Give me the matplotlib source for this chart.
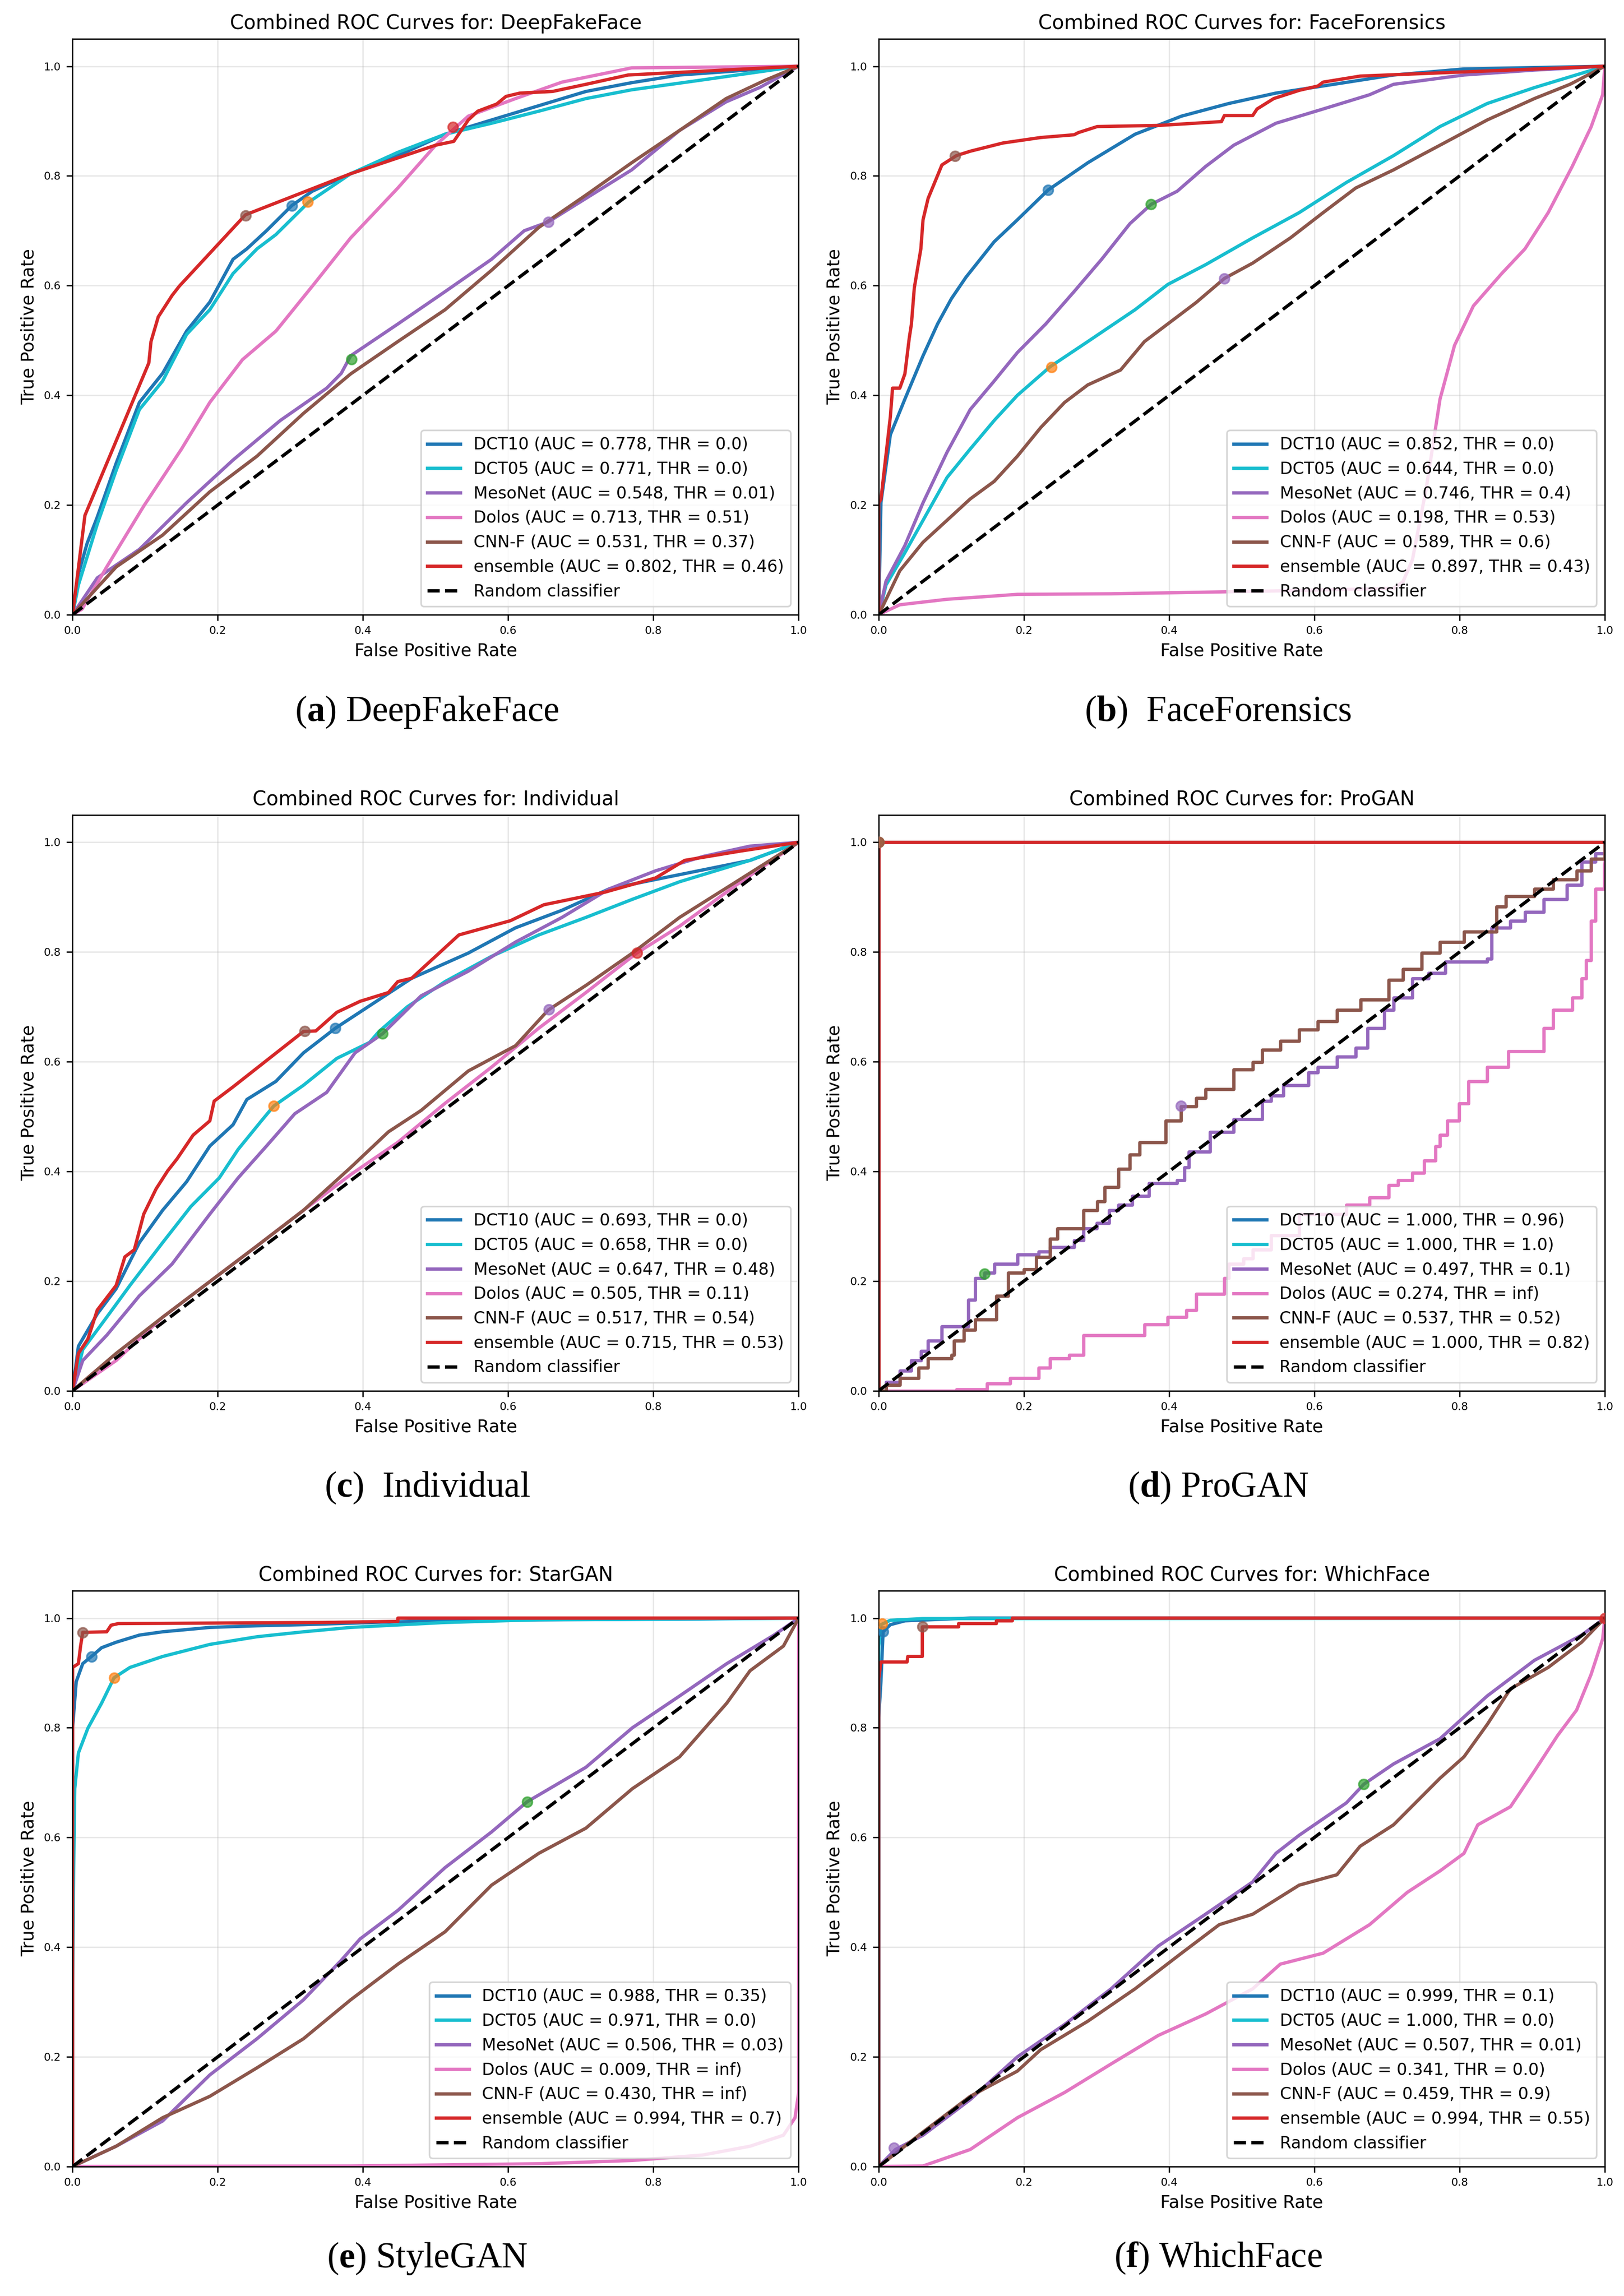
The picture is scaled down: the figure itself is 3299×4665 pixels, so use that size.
import matplotlib
matplotlib.use('Agg')
import matplotlib.pyplot as plt

plt.rcParams['mathtext.fontset'] = 'custom'
plt.rcParams['mathtext.rm'] = 'Liberation Serif'
plt.rcParams['mathtext.bf'] = 'Liberation Serif:bold'

models = ['DCT10', 'DCT05', 'MesoNet', 'Dolos', 'CNN-F', 'ensemble']
line_colors = ['tab:blue', 'tab:cyan', 'tab:purple', 'tab:pink', 'tab:brown', 'tab:red']
marker_colors = ['C0', 'C1', 'C2', 'C3', 'C4', 'C5']
diag = [0, 1]

# ---- DeepFakeFace ----
dff_auc = [0.778, 0.771, 0.548, 0.713, 0.531, 0.802]
dff_thr = [0.0, 0.0, 0.01, 0.51, 0.37, 0.46]
dff_dct10_fpr = [0, 0.008, 0.02, 0.034, 0.06, 0.092, 0.124, 0.157, 0.189, 0.221, 0.24, 0.267, 0.302, 0.33, 0.383, 0.448, 0.513, 0.577, 0.642, 0.707, 0.77, 0.836, 0.90, 1.0]
dff_dct10_tpr = [0, 0.074, 0.13, 0.178, 0.276, 0.387, 0.44, 0.517, 0.57, 0.648, 0.667, 0.70, 0.746, 0.772, 0.804, 0.837, 0.876, 0.902, 0.928, 0.954, 0.97, 0.984, 0.99, 1.0]
dff_dct05_fpr = [0, 0.008, 0.034, 0.06, 0.092, 0.124, 0.157, 0.189, 0.221, 0.254, 0.28, 0.325, 0.383, 0.448, 0.513, 0.577, 0.642, 0.707, 0.77, 0.862, 1.0]
dff_dct05_tpr = [0, 0.054, 0.165, 0.263, 0.374, 0.426, 0.511, 0.556, 0.622, 0.667, 0.693, 0.752, 0.804, 0.843, 0.876, 0.896, 0.918, 0.941, 0.957, 0.974, 1.0]
dff_meso_fpr = [0, 0.034, 0.092, 0.157, 0.221, 0.286, 0.35, 0.37, 0.383, 0.448, 0.513, 0.577, 0.622, 0.655, 0.707, 0.77, 0.836, 0.90, 0.946, 1.0]
dff_meso_tpr = [0, 0.067, 0.119, 0.204, 0.282, 0.354, 0.413, 0.44, 0.472, 0.53, 0.589, 0.648, 0.70, 0.716, 0.759, 0.811, 0.883, 0.935, 0.961, 1.0]
dff_dolos_fpr = [0, 0.013, 0.047, 0.098, 0.15, 0.189, 0.234, 0.28, 0.332, 0.383, 0.448, 0.50, 0.545, 0.61, 0.674, 0.77, 1.0]
dff_dolos_tpr = [0, 0.01, 0.087, 0.198, 0.302, 0.387, 0.465, 0.517, 0.602, 0.687, 0.778, 0.856, 0.909, 0.941, 0.971, 0.997, 1.0]
dff_cnnf_fpr = [0, 0.06, 0.124, 0.189, 0.254, 0.318, 0.383, 0.448, 0.513, 0.577, 0.642, 0.707, 0.77, 0.836, 0.90, 0.953, 1.0]
dff_cnnf_tpr = [0, 0.087, 0.145, 0.224, 0.289, 0.367, 0.439, 0.498, 0.556, 0.628, 0.706, 0.765, 0.824, 0.883, 0.941, 0.974, 1.0]
dff_ens_fpr = [0, 0.017, 0.105, 0.108, 0.118, 0.137, 0.147, 0.238, 0.383, 0.50, 0.525, 0.545, 0.558, 0.584, 0.597, 0.616, 0.661, 0.707, 0.765, 1.0]
dff_ens_tpr = [0, 0.181, 0.459, 0.498, 0.543, 0.582, 0.599, 0.729, 0.804, 0.856, 0.863, 0.902, 0.918, 0.931, 0.945, 0.951, 0.954, 0.967, 0.984, 1.0]
dff_pt_fpr = [0.302, 0.324, 0.384, 0.524, 0.655, 0.238]
dff_pt_tpr = [0.746, 0.753, 0.466, 0.889, 0.716, 0.728]

# ---- FaceForensics ----
ff_auc = [0.852, 0.644, 0.746, 0.198, 0.589, 0.897]
ff_thr = [0.0, 0.0, 0.4, 0.53, 0.6, 0.43]
ff_dct10_fpr = [0, 0.003, 0.016, 0.036, 0.061, 0.081, 0.1, 0.12, 0.159, 0.191, 0.233, 0.288, 0.353, 0.417, 0.482, 0.547, 0.612, 0.709, 0.806, 1.0]
ff_dct10_tpr = [0, 0.204, 0.328, 0.393, 0.472, 0.53, 0.576, 0.615, 0.68, 0.72, 0.774, 0.824, 0.876, 0.909, 0.932, 0.951, 0.964, 0.984, 0.995, 1.0]
ff_dct05_fpr = [0, 0.01, 0.036, 0.061, 0.094, 0.126, 0.159, 0.191, 0.236, 0.288, 0.353, 0.398, 0.45, 0.515, 0.579, 0.644, 0.709, 0.773, 0.838, 0.903, 1.0]
ff_dct05_tpr = [0, 0.054, 0.113, 0.172, 0.25, 0.302, 0.354, 0.40, 0.452, 0.498, 0.556, 0.602, 0.638, 0.687, 0.733, 0.788, 0.837, 0.89, 0.932, 0.961, 1.0]
ff_meso_fpr = [0, 0.01, 0.036, 0.061, 0.094, 0.126, 0.159, 0.191, 0.23, 0.269, 0.307, 0.346, 0.375, 0.411, 0.45, 0.489, 0.547, 0.612, 0.676, 0.709, 0.806, 0.903, 1.0]
ff_meso_tpr = [0, 0.061, 0.126, 0.204, 0.296, 0.374, 0.426, 0.478, 0.53, 0.589, 0.648, 0.713, 0.748, 0.772, 0.817, 0.856, 0.896, 0.922, 0.948, 0.967, 0.984, 0.993, 1.0]
ff_dolos_fpr = [0, 0.029, 0.094, 0.191, 0.32, 0.45, 0.579, 0.709, 0.722, 0.735, 0.754, 0.773, 0.793, 0.819, 0.858, 0.89, 0.922, 0.955, 0.981, 0.997, 1.0]
ff_dolos_tpr = [0, 0.018, 0.028, 0.037, 0.038, 0.041, 0.044, 0.048, 0.06, 0.1, 0.23, 0.393, 0.491, 0.563, 0.622, 0.667, 0.733, 0.817, 0.889, 0.948, 1.0]
ff_cnnf_fpr = [0, 0.029, 0.061, 0.094, 0.126, 0.159, 0.191, 0.223, 0.256, 0.288, 0.333, 0.366, 0.398, 0.437, 0.476, 0.515, 0.567, 0.612, 0.657, 0.709, 0.773, 0.838, 0.903, 0.952, 1.0]
ff_cnnf_tpr = [0, 0.08, 0.132, 0.172, 0.211, 0.243, 0.289, 0.341, 0.387, 0.419, 0.446, 0.498, 0.53, 0.569, 0.613, 0.641, 0.687, 0.733, 0.778, 0.811, 0.856, 0.902, 0.941, 0.967, 1.0]
ff_ens_fpr = [0, 0, 0.003, 0.009, 0.016, 0.019, 0.029, 0.036, 0.042, 0.045, 0.049, 0.058, 0.061, 0.068, 0.078, 0.087, 0.107, 0.126, 0.171, 0.223, 0.269, 0.275, 0.301, 0.385, 0.472, 0.476, 0.515, 0.521, 0.544, 0.579, 0.605, 0.612, 0.663, 1.0]
ff_ens_tpr = [0, 0.204, 0.21, 0.28, 0.361, 0.413, 0.413, 0.439, 0.504, 0.53, 0.596, 0.667, 0.72, 0.759, 0.791, 0.82, 0.837, 0.845, 0.86, 0.87, 0.875, 0.879, 0.89, 0.892, 0.899, 0.91, 0.91, 0.922, 0.941, 0.956, 0.964, 0.971, 0.982, 1.0]
ff_pt_fpr = [0.233, 0.238, 0.375, None, 0.476, 0.105]
ff_pt_tpr = [0.774, 0.451, 0.748, None, 0.613, 0.836]

# ---- Individual ----
ind_auc = [0.693, 0.658, 0.647, 0.505, 0.517, 0.715]
ind_thr = [0.0, 0.0, 0.48, 0.11, 0.54, 0.53]
ind_dct10_fpr = [0, 0.008, 0.034, 0.06, 0.092, 0.124, 0.157, 0.189, 0.221, 0.24, 0.28, 0.318, 0.362, 0.415, 0.467, 0.545, 0.61, 0.674, 0.739, 0.836, 0.933, 1.0]
ind_dct10_tpr = [0, 0.081, 0.14, 0.186, 0.27, 0.329, 0.381, 0.446, 0.485, 0.531, 0.564, 0.616, 0.661, 0.707, 0.752, 0.798, 0.844, 0.876, 0.915, 0.941, 0.967, 1.0]
ind_dct05_fpr = [0, 0.014, 0.047, 0.079, 0.124, 0.163, 0.202, 0.228, 0.26, 0.277, 0.318, 0.364, 0.409, 0.422, 0.461, 0.513, 0.577, 0.642, 0.707, 0.771, 0.836, 0.933, 1.0]
ind_dct05_tpr = [0, 0.075, 0.134, 0.192, 0.27, 0.336, 0.388, 0.44, 0.492, 0.519, 0.557, 0.606, 0.635, 0.655, 0.70, 0.746, 0.792, 0.831, 0.863, 0.896, 0.928, 0.967, 1.0]
ind_meso_fpr = [0, 0.014, 0.047, 0.092, 0.137, 0.189, 0.228, 0.267, 0.306, 0.35, 0.389, 0.427, 0.48, 0.545, 0.61, 0.674, 0.739, 0.803, 0.868, 0.933, 1.0]
ind_meso_tpr = [0, 0.055, 0.101, 0.173, 0.231, 0.322, 0.388, 0.446, 0.505, 0.544, 0.616, 0.651, 0.72, 0.765, 0.818, 0.863, 0.915, 0.948, 0.974, 0.993, 1.0]
ind_dolos_fpr = [0, 0.06, 0.124, 0.189, 0.254, 0.318, 0.383, 0.448, 0.513, 0.577, 0.642, 0.707, 0.777, 0.836, 0.914, 1.0]
ind_dolos_tpr = [0, 0.055, 0.134, 0.199, 0.264, 0.329, 0.394, 0.453, 0.524, 0.59, 0.661, 0.726, 0.798, 0.847, 0.922, 1.0]
ind_cnnf_fpr = [0, 0.06, 0.124, 0.189, 0.254, 0.318, 0.383, 0.435, 0.48, 0.545, 0.61, 0.655, 0.707, 0.771, 0.836, 0.914, 1.0]
ind_cnnf_tpr = [0, 0.068, 0.134, 0.199, 0.264, 0.329, 0.407, 0.472, 0.511, 0.583, 0.629, 0.694, 0.739, 0.798, 0.863, 0.928, 1.0]
ind_ens_fpr = [0, 0.008, 0.021, 0.034, 0.06, 0.072, 0.085, 0.098, 0.115, 0.131, 0.144, 0.166, 0.189, 0.195, 0.221, 0.318, 0.335, 0.364, 0.396, 0.435, 0.448, 0.467, 0.532, 0.603, 0.649, 0.733, 0.803, 0.843, 0.92, 1.0]
ind_ens_tpr = [0, 0.068, 0.094, 0.147, 0.192, 0.244, 0.257, 0.322, 0.368, 0.401, 0.423, 0.466, 0.492, 0.528, 0.554, 0.655, 0.656, 0.69, 0.71, 0.726, 0.746, 0.752, 0.831, 0.857, 0.886, 0.909, 0.935, 0.967, 0.984, 1.0]
ind_pt_fpr = [0.362, 0.277, 0.427, 0.777, 0.656, 0.32]
ind_pt_tpr = [0.661, 0.519, 0.651, 0.798, 0.695, 0.656]

# ---- ProGAN (step curves) ----
pg_auc = [1.000, 1.000, 0.497, 0.274, 0.537, 1.000]
pg_thr = [0.96, 1.0, 0.1, float('inf'), 0.52, 0.82]
pg_dct10_fpr = [0, 0, 1.0]
pg_dct10_tpr = [0, 1.0, 1.0]
pg_dct05_fpr = [0, 0, 1.0]
pg_dct05_tpr = [0, 1.0, 1.0]
pg_meso_fpr = [0, 0.01, 0.029, 0.045, 0.058, 0.068, 0.087, 0.123, 0.133, 0.146, 0.159, 0.191, 0.22, 0.236, 0.269, 0.282, 0.3, 0.317, 0.33, 0.349, 0.372, 0.411, 0.421, 0.427, 0.456, 0.489, 0.528, 0.54, 0.557, 0.592, 0.605, 0.631, 0.657, 0.673, 0.696, 0.709, 0.735, 0.757, 0.78, 0.838, 0.844, 0.87, 0.89, 0.916, 0.948, 0.968, 0.987, 1.0]
pg_meso_tpr = [0, 0.016, 0.036, 0.055, 0.072, 0.091, 0.117, 0.166, 0.205, 0.215, 0.231, 0.248, 0.254, 0.262, 0.274, 0.296, 0.306, 0.329, 0.339, 0.355, 0.378, 0.384, 0.407, 0.436, 0.472, 0.495, 0.528, 0.538, 0.557, 0.58, 0.59, 0.609, 0.625, 0.661, 0.694, 0.717, 0.752, 0.762, 0.782, 0.788, 0.844, 0.857, 0.873, 0.896, 0.922, 0.964, 0.98, 1.0]
pg_dolos_fpr = [0, 0.107, 0.149, 0.181, 0.22, 0.236, 0.262, 0.282, 0.366, 0.398, 0.424, 0.437, 0.476, 0.482, 0.502, 0.515, 0.54, 0.579, 0.644, 0.676, 0.702, 0.715, 0.735, 0.751, 0.767, 0.773, 0.783, 0.799, 0.812, 0.838, 0.867, 0.916, 0.929, 0.955, 0.968, 0.974, 0.981, 0.987, 0.999, 1.0]
pg_dolos_tpr = [0, 0.002, 0.013, 0.023, 0.042, 0.059, 0.065, 0.101, 0.121, 0.134, 0.147, 0.176, 0.205, 0.231, 0.241, 0.257, 0.283, 0.322, 0.339, 0.352, 0.375, 0.384, 0.397, 0.42, 0.446, 0.466, 0.492, 0.524, 0.564, 0.59, 0.619, 0.661, 0.694, 0.717, 0.752, 0.785, 0.857, 0.915, 0.961, 1.0]
pg_cnnf_fpr = [0, 0.01, 0.029, 0.055, 0.068, 0.1, 0.104, 0.117, 0.133, 0.162, 0.178, 0.2, 0.217, 0.236, 0.246, 0.282, 0.301, 0.311, 0.33, 0.346, 0.359, 0.395, 0.416, 0.437, 0.45, 0.489, 0.515, 0.528, 0.553, 0.579, 0.605, 0.631, 0.664, 0.702, 0.722, 0.748, 0.773, 0.806, 0.851, 0.864, 0.903, 0.929, 0.961, 0.981, 1.0]
pg_cnnf_tpr = [0, 0.01, 0.023, 0.042, 0.059, 0.065, 0.091, 0.111, 0.13, 0.173, 0.215, 0.221, 0.244, 0.277, 0.296, 0.329, 0.345, 0.371, 0.404, 0.43, 0.453, 0.492, 0.518, 0.534, 0.55, 0.586, 0.599, 0.622, 0.638, 0.658, 0.674, 0.694, 0.713, 0.749, 0.769, 0.798, 0.818, 0.837, 0.883, 0.902, 0.915, 0.932, 0.948, 0.97, 1.0]
pg_ens_fpr = [0, 0, 1.0]
pg_ens_tpr = [0, 1.0, 1.0]
pg_pt_fpr = [0.0, 0.0, 0.146, None, 0.416, 0.0]
pg_pt_tpr = [1.0, 1.0, 0.213, None, 0.519, 1.0]

# ---- StarGAN / StyleGAN ----
sg_auc = [0.988, 0.971, 0.506, 0.009, 0.430, 0.994]
sg_thr = [0.35, 0.0, 0.03, float('inf'), float('inf'), 0.7]
sg_dct10_fpr = [0, 0, 0.005, 0.014, 0.026, 0.04, 0.06, 0.092, 0.124, 0.189, 0.254, 0.318, 0.513, 0.836, 1.0]
sg_dct10_tpr = [0, 0.8, 0.884, 0.917, 0.93, 0.946, 0.956, 0.969, 0.975, 0.983, 0.986, 0.988, 0.996, 0.998, 1.0]
sg_dct05_fpr = [0, 0, 0.001, 0.003, 0.008, 0.021, 0.04, 0.057, 0.079, 0.124, 0.189, 0.254, 0.318, 0.383, 0.513, 0.642, 1.0]
sg_dct05_tpr = [0, 0.3, 0.493, 0.689, 0.754, 0.799, 0.845, 0.891, 0.91, 0.93, 0.952, 0.966, 0.975, 0.983, 0.992, 0.997, 1.0]
sg_meso_fpr = [0, 0.06, 0.124, 0.189, 0.254, 0.318, 0.37, 0.396, 0.448, 0.513, 0.577, 0.626, 0.707, 0.771, 0.836, 0.901, 0.966, 1.0]
sg_meso_tpr = [0, 0.037, 0.083, 0.167, 0.233, 0.304, 0.376, 0.415, 0.467, 0.545, 0.61, 0.665, 0.728, 0.80, 0.858, 0.917, 0.969, 1.0]
sg_dolos_fpr = [0, 0.383, 0.642, 0.771, 0.868, 0.933, 0.979, 0.995, 1.0, 1.0]
sg_dolos_tpr = [0, 0.001, 0.005, 0.011, 0.021, 0.037, 0.057, 0.089, 0.135, 1.0]
sg_cnnf_fpr = [0, 0.06, 0.124, 0.189, 0.254, 0.318, 0.383, 0.448, 0.513, 0.577, 0.642, 0.707, 0.771, 0.836, 0.901, 0.933, 0.979, 1.0]
sg_cnnf_tpr = [0, 0.037, 0.089, 0.128, 0.18, 0.233, 0.304, 0.369, 0.428, 0.513, 0.571, 0.617, 0.689, 0.747, 0.845, 0.904, 0.949, 1.0]
sg_ens_fpr = [0, 0, 0.008, 0.011, 0.014, 0.047, 0.053, 0.063, 0.344, 0.448, 0.448, 1.0]
sg_ens_tpr = [0, 0.91, 0.917, 0.949, 0.974, 0.975, 0.987, 0.99, 0.992, 0.994, 1.0, 1.0]
sg_pt_fpr = [0.026, 0.057, 0.626, None, None, 0.014]
sg_pt_tpr = [0.93, 0.891, 0.665, None, None, 0.974]

# ---- WhichFace ----
wf_auc = [0.999, 1.000, 0.507, 0.341, 0.459, 0.994]
wf_thr = [0.1, 0.0, 0.01, 0.0, 0.9, 0.55]
wf_dct10_fpr = [0, 0, 0.003, 0.006, 0.016, 0.036, 0.126, 1.0]
wf_dct10_tpr = [0, 0.819, 0.884, 0.975, 0.988, 0.995, 1.0, 1.0]
wf_dct05_fpr = [0, 0, 0.003, 0.016, 0.06, 1.0]
wf_dct05_tpr = [0, 0.949, 0.988, 0.996, 0.999, 1.0]
wf_meso_fpr = [0, 0.023, 0.061, 0.126, 0.191, 0.256, 0.32, 0.385, 0.45, 0.515, 0.547, 0.579, 0.644, 0.668, 0.709, 0.773, 0.838, 0.903, 0.968, 1.0]
wf_meso_tpr = [0, 0.031, 0.057, 0.122, 0.2, 0.259, 0.324, 0.402, 0.46, 0.519, 0.571, 0.604, 0.663, 0.697, 0.734, 0.78, 0.858, 0.923, 0.969, 1.0]
wf_dolos_fpr = [0, 0.061, 0.126, 0.191, 0.256, 0.32, 0.385, 0.45, 0.515, 0.553, 0.612, 0.676, 0.728, 0.773, 0.806, 0.825, 0.87, 0.903, 0.935, 0.961, 0.981, 0.997, 1.0]
wf_dolos_tpr = [0, 0.001, 0.031, 0.089, 0.135, 0.187, 0.239, 0.278, 0.324, 0.369, 0.389, 0.441, 0.50, 0.539, 0.571, 0.623, 0.656, 0.721, 0.786, 0.832, 0.897, 0.962, 1.0]
wf_cnnf_fpr = [0, 0.061, 0.126, 0.191, 0.223, 0.288, 0.353, 0.417, 0.469, 0.515, 0.579, 0.631, 0.663, 0.709, 0.773, 0.806, 0.838, 0.87, 0.922, 0.968, 1.0]
wf_cnnf_tpr = [0, 0.063, 0.128, 0.174, 0.213, 0.265, 0.324, 0.389, 0.441, 0.46, 0.513, 0.532, 0.584, 0.623, 0.708, 0.747, 0.806, 0.871, 0.91, 0.956, 1.0]
wf_ens_fpr = [0, 0, 0.003, 0.039, 0.04, 0.06, 0.06, 0.11, 0.11, 0.162, 0.162, 0.184, 0.184, 1.0]
wf_ens_tpr = [0, 0.89, 0.92, 0.92, 0.93, 0.93, 0.984, 0.984, 0.99, 0.99, 0.995, 0.995, 1.0, 1.0]
wf_pt_fpr = [0.006, 0.005, 0.668, 1.0, 0.021, 0.06]
wf_pt_tpr = [0.975, 0.99, 0.697, 1.0, 0.034, 0.984]

panels = [
    ('DeepFakeFace', r'($\mathbf{a}$) DeepFakeFace', False,
     [(dff_dct10_fpr, dff_dct10_tpr), (dff_dct05_fpr, dff_dct05_tpr), (dff_meso_fpr, dff_meso_tpr),
      (dff_dolos_fpr, dff_dolos_tpr), (dff_cnnf_fpr, dff_cnnf_tpr), (dff_ens_fpr, dff_ens_tpr)],
     dff_pt_fpr, dff_pt_tpr, dff_auc, dff_thr),
    ('FaceForensics', r'($\mathbf{b}$)  FaceForensics', False,
     [(ff_dct10_fpr, ff_dct10_tpr), (ff_dct05_fpr, ff_dct05_tpr), (ff_meso_fpr, ff_meso_tpr),
      (ff_dolos_fpr, ff_dolos_tpr), (ff_cnnf_fpr, ff_cnnf_tpr), (ff_ens_fpr, ff_ens_tpr)],
     ff_pt_fpr, ff_pt_tpr, ff_auc, ff_thr),
    ('Individual', r'($\mathbf{c}$)  Individual', False,
     [(ind_dct10_fpr, ind_dct10_tpr), (ind_dct05_fpr, ind_dct05_tpr), (ind_meso_fpr, ind_meso_tpr),
      (ind_dolos_fpr, ind_dolos_tpr), (ind_cnnf_fpr, ind_cnnf_tpr), (ind_ens_fpr, ind_ens_tpr)],
     ind_pt_fpr, ind_pt_tpr, ind_auc, ind_thr),
    ('ProGAN', r'($\mathbf{d}$) ProGAN', True,
     [(pg_dct10_fpr, pg_dct10_tpr), (pg_dct05_fpr, pg_dct05_tpr), (pg_meso_fpr, pg_meso_tpr),
      (pg_dolos_fpr, pg_dolos_tpr), (pg_cnnf_fpr, pg_cnnf_tpr), (pg_ens_fpr, pg_ens_tpr)],
     pg_pt_fpr, pg_pt_tpr, pg_auc, pg_thr),
    ('StarGAN', r'($\mathbf{e}$) StyleGAN', False,
     [(sg_dct10_fpr, sg_dct10_tpr), (sg_dct05_fpr, sg_dct05_tpr), (sg_meso_fpr, sg_meso_tpr),
      (sg_dolos_fpr, sg_dolos_tpr), (sg_cnnf_fpr, sg_cnnf_tpr), (sg_ens_fpr, sg_ens_tpr)],
     sg_pt_fpr, sg_pt_tpr, sg_auc, sg_thr),
    ('WhichFace', r'($\mathbf{f}$) WhichFace', False,
     [(wf_dct10_fpr, wf_dct10_tpr), (wf_dct05_fpr, wf_dct05_tpr), (wf_meso_fpr, wf_meso_tpr),
      (wf_dolos_fpr, wf_dolos_tpr), (wf_cnnf_fpr, wf_cnnf_tpr), (wf_ens_fpr, wf_ens_tpr)],
     wf_pt_fpr, wf_pt_tpr, wf_auc, wf_thr),
]

DPI = 241
fig = plt.figure(figsize=(3299 / DPI, 4665 / DPI), dpi=DPI)

lefts = [0.0447, 0.5411]
bottoms = [0.7323, 0.3943, 0.0564]
caption_x = [0.263, 0.750]
caption_y = [0.686, 0.348, 0.0125]
w, h = 0.4471, 0.2508

for i, (name, caption, steps, curves, pt_fpr, pt_tpr, auc, thr) in enumerate(panels):
    row, col = divmod(i, 2)
    ax = fig.add_axes([lefts[col], bottoms[row], w, h])
    for j, (fpr, tpr) in enumerate(curves):
        ax.plot(fpr, tpr, color=line_colors[j], lw=2,
                drawstyle='steps-post' if steps else 'default',
                label=f'{models[j]} (AUC = {auc[j]:.3f}, THR = {round(thr[j], 2)})')
    for j in range(6):
        if pt_fpr[j] is not None:
            ax.scatter(pt_fpr[j], pt_tpr[j], color=marker_colors[j], s=36, alpha=0.7, zorder=5)
    ax.plot(diag, diag, 'k--', lw=2, label='Random classifier')
    ax.set_xlim(0, 1)
    ax.set_ylim(0, 1.05)
    ax.set_xlabel('False Positive Rate', fontsize=10.6)
    ax.set_ylabel('True Positive Rate', fontsize=10.6)
    ax.set_title(f'Combined ROC Curves for: {name}', fontsize=12)
    ax.tick_params(labelsize=6.6)
    ax.grid(True, alpha=0.3)
    ax.legend(loc='lower right', fontsize=10)
    fig.text(caption_x[col], caption_y[row], caption, ha='center', va='baseline',
             family='Liberation Serif', fontsize=21.8)

fig.savefig('out.png', dpi=DPI)
